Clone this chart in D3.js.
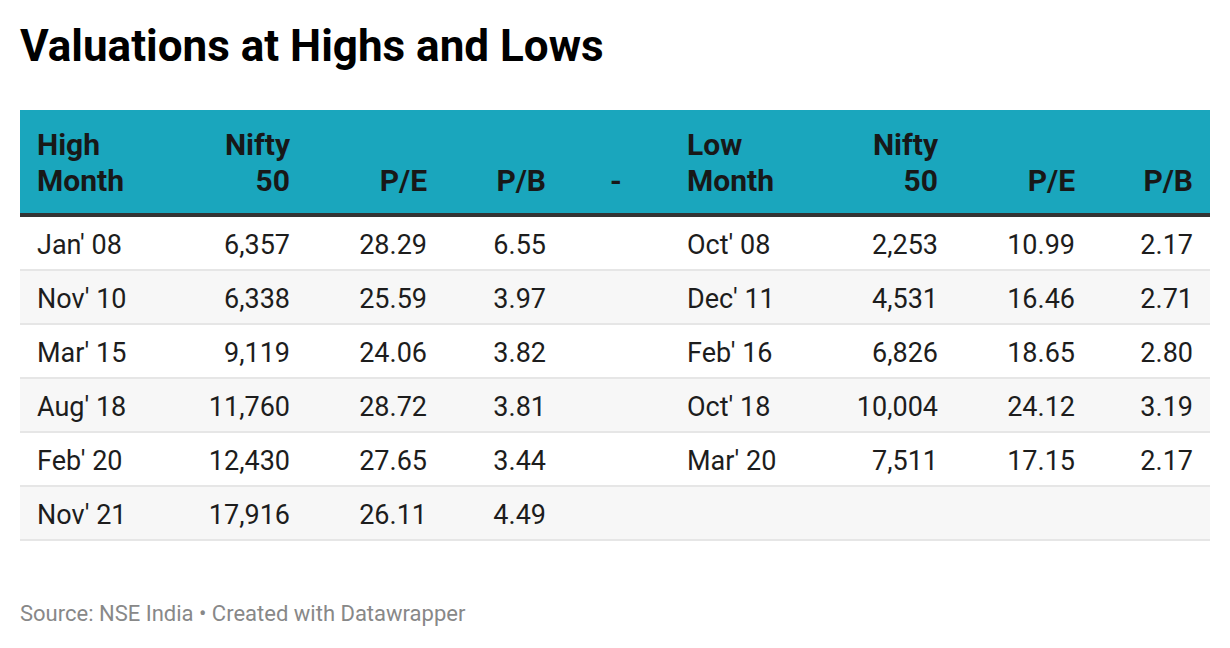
<!DOCTYPE html>
<html>
<head>
<meta charset="utf-8">
<script src="https://cdn.jsdelivr.net/npm/d3@7"></script>
<style>
  body { margin: 0; background: #fff; }
  svg { display: block; font-family: Roboto, sans-serif; }
</style>
</head>
<body>
<svg id="chart"></svg>
<script>
// table data
const highMonths = ["Jan' 08", "Nov' 10", "Mar' 15", "Aug' 18", "Feb' 20", "Nov' 21"]
const highNifty = [6357, 6338, 9119, 11760, 12430, 17916]
const highPE = [28.29, 25.59, 24.06, 28.72, 27.65, 26.11]
const highPB = [6.55, 3.97, 3.82, 3.81, 3.44, 4.49]

const lowMonths = ["Oct' 08", "Dec' 11", "Feb' 16", "Oct' 18", "Mar' 20"]
const lowNifty = [2253, 4531, 6826, 10004, 7511]
const lowPE = [10.99, 16.46, 18.65, 24.12, 17.15]
const lowPB = [2.17, 2.71, 2.80, 3.19, 2.17]

const headers = [
  ['High', 'Month'], ['Nifty', '50'], ['', 'P/E'], ['', 'P/B'], ['', '-'],
  ['Low', 'Month'], ['Nifty', '50'], ['', 'P/E'], ['', 'P/B']
]

const width = 1230
const height = 648
const left = 20
const right = 1210
const headTop = 110
const headBottom = 213
const bodyTop = 217
const rowH = 54

const svg = d3.select('#chart').attr('width', width).attr('height', height)

// title
svg.append('text')
  .attr('x', left).attr('y', 61)
  .attr('font-size', 44).attr('font-weight', 700).attr('fill', '#000')
  .text('Valuations at Highs and Lows')

// header
svg.append('rect')
  .attr('x', left).attr('y', headTop)
  .attr('width', right - left).attr('height', headBottom - headTop)
  .attr('fill', '#1aa6bd')
svg.append('rect')
  .attr('x', left).attr('y', headBottom)
  .attr('width', right - left).attr('height', bodyTop - headBottom)
  .attr('fill', '#333')

// column anchors: [x, anchor]
const cols = [
  [37, 'start'], [290, 'end'], [427, 'end'], [546, 'end'], [610, 'start'],
  [687, 'start'], [938, 'end'], [1075, 'end'], [1193, 'end']
]

const hg = svg.append('g').attr('font-size', 30).attr('font-weight', 700).attr('fill', '#181818')
headers.forEach((h, i) => {
  let t = hg.append('text').attr('x', cols[i][0]).attr('text-anchor', cols[i][1])
  t.append('tspan').attr('x', cols[i][0]).attr('y', 155).text(h[0])
  t.append('tspan').attr('x', cols[i][0]).attr('y', 191).text(h[1])
})

// rows
const nRows = Math.max(highMonths.length, lowMonths.length)
const yScale = d3.scaleBand()
  .domain(d3.range(nRows))
  .range([bodyTop, bodyTop + rowH * nRows])

const fmtInt = d3.format(',')
const fmtDec = d3.format('.2f')

const rows = d3.range(nRows).map(i => [
  highMonths[i], highNifty[i] != null ? fmtInt(highNifty[i]) : '',
  highPE[i] != null ? fmtDec(highPE[i]) : '', highPB[i] != null ? fmtDec(highPB[i]) : '', '',
  lowMonths[i] || '', lowNifty[i] != null ? fmtInt(lowNifty[i]) : '',
  lowPE[i] != null ? fmtDec(lowPE[i]) : '', lowPB[i] != null ? fmtDec(lowPB[i]) : ''
])

const rowG = svg.selectAll('.row').data(rows)
  .enter().append('g')
  .attr('class', 'row')
  .attr('transform', (d, i) => `translate(0,${yScale(i)})`)

rowG.append('rect')
  .attr('x', left).attr('y', 0)
  .attr('width', right - left).attr('height', yScale.bandwidth())
  .attr('fill', (d, i) => i % 2 ? '#f7f7f7' : '#fff')

rowG.append('rect')
  .attr('x', left).attr('y', yScale.bandwidth() - 2)
  .attr('width', right - left).attr('height', 2)
  .attr('fill', '#e6e6e6')

rowG.selectAll('text').data(d => d)
  .enter().append('text')
  .attr('x', (d, j) => cols[j][0])
  .attr('text-anchor', (d, j) => cols[j][1])
  .attr('y', 37)
  .attr('font-size', 27)
  .attr('fill', '#1d1d1d')
  .text(d => d)

// footer
svg.append('text')
  .attr('x', left).attr('y', 621)
  .attr('font-size', 22).attr('fill', '#888')
  .text('Source: NSE India • Created with Datawrapper')
</script>
</body>
</html>
